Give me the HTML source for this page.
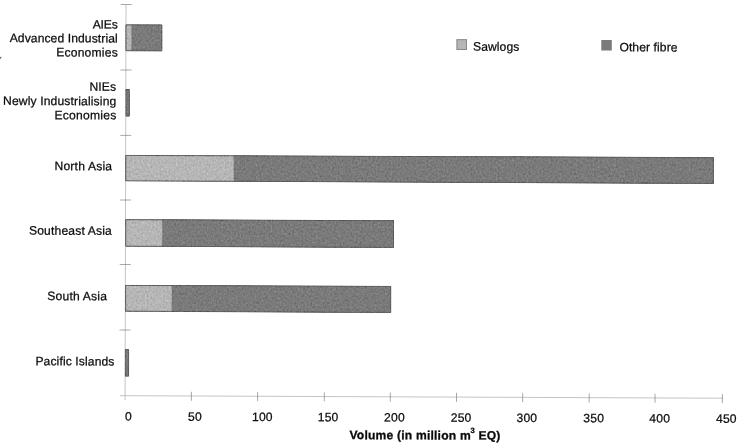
<!DOCTYPE html>
<html lang="en">
<head>
<meta charset="utf-8">
<title>Volume (in million m3 EQ)</title>
<style>
html,body{margin:0;padding:0;background:#fff;}
body{width:740px;height:443px;overflow:hidden;position:relative;}
svg{position:absolute;left:0;top:0;display:block;}
text{font-family:"Liberation Sans",Arial,Helvetica,sans-serif;font-size:12.1px;letter-spacing:0.2px;fill:#0c0c0c;stroke:#0c0c0c;stroke-width:0.25px;}
.r{text-anchor:end;}
.m{text-anchor:middle;}
.b{font-weight:bold;stroke-width:0.3px;}
.ax{stroke:#a4a4a4;stroke-width:0.65;fill:none;}
.tk{stroke:#7a7a7a;stroke-width:0.65;fill:none;}
.lt{fill:#b6b6b6;}
.dk{fill:#7a7a7a;}
.bd{fill:none;stroke:#5e5e5e;stroke-width:1;}
</style>
</head>
<body>
<svg width="740" height="443" viewBox="0 0 740 443">
<defs>
<filter id="grain" x="0" y="0" width="100%" height="100%" color-interpolation-filters="sRGB">
<feTurbulence type="fractalNoise" baseFrequency="0.55 0.45" numOctaves="2" seed="7" result="t"/>
<feColorMatrix in="t" type="matrix" values="0.6 0.4 0 0 0  0.6 0.4 0 0 0  0.6 0.4 0 0 0  0 0 0 0 1" result="g"/>
<feComposite in="SourceGraphic" in2="g" operator="arithmetic" k1="0" k2="1" k3="0.3" k4="-0.15" result="c"/>
<feComposite in="c" in2="SourceGraphic" operator="in"/>
</filter>
</defs>
<rect x="0" y="0" width="740" height="443" fill="#ffffff"/>

<g id="axes">
<line class="ax" x1="126.00" y1="4.50" x2="125.10" y2="400.00"/>
<line class="ax" x1="120.00" y1="395.68" x2="723.00" y2="398.22"/>
<line class="tk" x1="120.75" y1="4.50" x2="131.75" y2="4.50"/>
<line class="tk" x1="120.50" y1="70.00" x2="131.50" y2="70.00"/>
<line class="tk" x1="120.25" y1="135.40" x2="131.25" y2="135.40"/>
<line class="tk" x1="120.00" y1="200.00" x2="131.00" y2="200.00"/>
<line class="tk" x1="119.75" y1="264.50" x2="130.75" y2="264.50"/>
<line class="tk" x1="119.50" y1="330.00" x2="130.50" y2="330.00"/>
<line class="tk" x1="191.40" y1="391.78" x2="191.40" y2="400.78"/>
<line class="tk" x1="257.60" y1="392.06" x2="257.60" y2="401.06"/>
<line class="tk" x1="324.30" y1="392.34" x2="324.30" y2="401.34"/>
<line class="tk" x1="390.30" y1="392.62" x2="390.30" y2="401.62"/>
<line class="tk" x1="456.50" y1="392.90" x2="456.50" y2="401.90"/>
<line class="tk" x1="522.70" y1="393.18" x2="522.70" y2="402.18"/>
<line class="tk" x1="589.20" y1="393.46" x2="589.20" y2="402.46"/>
<line class="tk" x1="655.00" y1="393.74" x2="655.00" y2="402.74"/>
<line class="tk" x1="722.40" y1="394.02" x2="722.40" y2="403.02"/>
</g>
<g id="bars" filter="url(#grain)">
<polygon class="lt" points="125.50,24.40 131.80,24.42 131.80,51.23 125.50,51.20"/>
<polygon class="dk" points="131.80,24.42 162.30,24.54 162.30,51.36 131.80,51.23"/>
<line class="bd" x1="131.80" y1="24.42" x2="131.80" y2="51.23" style="stroke:#777;stroke-width:0.6"/>
<polygon class="bd" points="126.00,24.90 161.80,25.04 161.80,50.86 126.00,50.70"/>
<polygon class="dk" points="125.60,89.00 129.70,89.02 129.70,116.52 125.60,116.50"/>
<polygon class="bd" points="126.10,89.50 129.20,89.52 129.20,116.02 126.10,116.00"/>
<polygon class="lt" points="125.30,154.90 234.00,155.32 234.00,181.78 125.30,181.30"/>
<polygon class="dk" points="234.00,155.32 713.80,157.16 713.80,183.90 234.00,181.78"/>
<line class="bd" x1="234.00" y1="155.32" x2="234.00" y2="181.78" style="stroke:#777;stroke-width:0.6"/>
<polygon class="bd" points="125.80,155.40 713.30,157.66 713.30,183.40 125.80,180.80"/>
<polygon class="lt" points="125.20,219.20 162.60,219.34 162.60,246.87 125.20,246.70"/>
<polygon class="dk" points="162.60,219.34 394.00,220.23 394.00,247.89 162.60,246.87"/>
<line class="bd" x1="162.60" y1="219.34" x2="162.60" y2="246.87" style="stroke:#777;stroke-width:0.6"/>
<polygon class="bd" points="125.70,219.70 393.50,220.73 393.50,247.39 125.70,246.20"/>
<polygon class="lt" points="125.10,284.90 172.00,285.08 172.00,311.91 125.10,311.70"/>
<polygon class="dk" points="172.00,285.08 391.20,285.92 391.20,312.88 172.00,311.91"/>
<line class="bd" x1="172.00" y1="285.08" x2="172.00" y2="311.91" style="stroke:#777;stroke-width:0.6"/>
<polygon class="bd" points="125.60,285.40 390.70,286.42 390.70,312.38 125.60,311.20"/>
<polygon class="dk" points="124.90,349.20 129.10,349.22 129.10,376.52 124.90,376.50"/>
<polygon class="bd" points="125.40,349.70 128.60,349.72 128.60,376.02 125.40,376.00"/>
</g>
<rect class="lt" x="456.5" y="39.2" width="10.5" height="10.8"/>
<rect class="bd" x="457" y="39.7" width="9.5" height="9.8" style="stroke:#8a8a8a"/>
<rect class="dk" x="601.3" y="40" width="10.5" height="10.5"/>
<text x="473" y="50.6" style="letter-spacing:0.1px" transform="rotate(0.22 473 50.6)">Sawlogs</text>
<text x="619.4" y="51.2" style="letter-spacing:0.1px" transform="rotate(0.22 619.4 51.2)">Other fibre</text>
<text class="r" x="117.5" y="28.50" style="letter-spacing:-0.2px" transform="rotate(0.22 117.5 28.5)">AIEs</text>
<text class="r" x="117.8" y="42.50" style="letter-spacing:0.1px" transform="rotate(0.22 117.8 42.5)">Advanced Industrial</text>
<text class="r" x="117.9" y="56.60" style="letter-spacing:0.2px" transform="rotate(0.22 117.9 56.6)">Economies</text>
<text class="r" x="116.0" y="90.80" style="letter-spacing:0.05px" transform="rotate(0.22 116.0 90.8)">NIEs</text>
<text class="r" x="116.4" y="105.30" style="letter-spacing:0.15px" transform="rotate(0.22 116.4 105.3)">Newly Industrialising</text>
<text class="r" x="116.5" y="119.40" style="letter-spacing:0.25px" transform="rotate(0.22 116.5 119.4)">Economies</text>
<text class="r" x="112.3" y="170.30" style="letter-spacing:0.2px" transform="rotate(0.22 112.3 170.3)">North Asia</text>
<text class="r" x="112.0" y="234.90" style="letter-spacing:0.17px" transform="rotate(0.22 112.0 234.9)">Southeast Asia</text>
<text class="r" x="107.1" y="300.30" style="letter-spacing:0.2px" transform="rotate(0.22 107.1 300.3)">South Asia</text>
<text class="r" x="114.5" y="365.50" style="letter-spacing:0.12px" transform="rotate(0.22 114.5 365.5)">Pacific Islands</text>
<text class="m" x="128.4" y="420.51" transform="rotate(0.22 128.4 420.51)">0</text>
<text class="m" x="194.9" y="420.77" transform="rotate(0.22 194.9 420.77)">50</text>
<text class="m" x="262.4" y="421.03" transform="rotate(0.22 262.4 421.03)">100</text>
<text class="m" x="328.1" y="421.28" transform="rotate(0.22 328.1 421.28)">150</text>
<text class="m" x="394.5" y="421.53" transform="rotate(0.22 394.5 421.53)">200</text>
<text class="m" x="461.1" y="421.79" transform="rotate(0.22 461.1 421.79)">250</text>
<text class="m" x="526.9" y="422.04" transform="rotate(0.22 526.9 422.04)">300</text>
<text class="m" x="593.7" y="422.30" transform="rotate(0.22 593.7 422.30)">350</text>
<text class="m" x="659.7" y="422.55" transform="rotate(0.22 659.7 422.55)">400</text>
<text class="m" x="726.4" y="422.81" transform="rotate(0.22 726.4 422.81)">450</text>
<text class="b" x="349.5" y="439.1" transform="rotate(0.22 349.5 439.1)">Volume (in million m<tspan dy="-6.6" dx="-0.4" font-size="7.6">3</tspan><tspan dy="6.6"> EQ)</tspan></text>
<path d="M0 57.2 L1.6 56.6 L0.6 59.4 Z" fill="#555"/>
</svg>
</body>
</html>
